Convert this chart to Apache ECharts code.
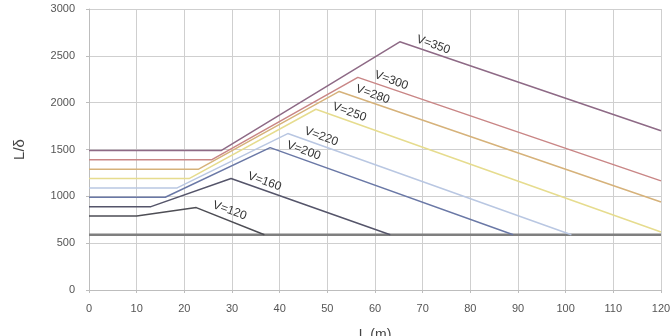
<!DOCTYPE html>
<html>
<head>
<meta charset="utf-8">
<script src="https://cdn.jsdelivr.net/npm/echarts@6/dist/echarts.min.js"></script>
<style>
  html, body { margin: 0; padding: 0; background: #fff; }
  #chart { width: 671px; height: 336px; }
</style>
</head>
<body>
<div id="chart"></div>
<script>
// speed labels and line shapes: [L (m), L/δ]
const speeds = ['V=120', 'V=160', 'V=200', 'V=220', 'V=250', 'V=280', 'V=300', 'V=350'];
const v120 = [[0, 790], [10, 790], [22.5, 880], [36.8, 590]];
const v160 = [[0, 890], [13, 890], [29.8, 1190], [63.2, 590]];
const v200 = [[0, 990], [16, 990], [38, 1520], [89, 590]];
const v220 = [[0, 1090], [18.5, 1090], [41.7, 1670], [101.2, 590]];
const v250 = [[0, 1190], [21, 1190], [47.6, 1930], [120, 620]];
const v280 = [[0, 1290], [23, 1290], [52.5, 2120], [120, 940]];
const v300 = [[0, 1390], [25.7, 1390], [56.4, 2270], [120, 1165]];
const v350 = [[0, 1490], [27.8, 1490], [65.2, 2650], [120, 1700]];
const baseLine = [[0, 590], [120, 590]];
const xTicks = [0, 10, 20, 30, 40, 50, 60, 70, 80, 90, 100, 110, 120];
const yTicks = [0, 500, 1000, 1500, 2000, 2500, 3000];

const lines = [v120, v160, v200, v220, v250, v280, v300, v350];
const colors = ['#4e4e55', '#55556a', '#6a78a6', '#b9c7e2', '#e6dc8e', '#d6b27a', '#c98686', '#8e6a86'];

const chart = echarts.init(document.getElementById('chart'));

const series = lines.map((pts, i) => ({
  name: speeds[i],
  type: 'line',
  symbol: 'circle',
  symbolSize: 0,
  z: 3 + i,
  lineStyle: { color: colors[i], width: 1.5 },
  itemStyle: { color: colors[i] },
  labelLayout: { hideOverlap: false },
  data: pts.map((p, j) => {
    if (j !== 2) return p;
    return {
      value: p,
      label: {
        show: true,
        formatter: speeds[i],
        position: [17, -3],
        align: 'left',
        verticalAlign: 'middle',
        rotate: -20,
        color: '#333',
        fontSize: 12,
        fontFamily: 'Liberation Sans',
      },
    };
  }),
}));

series.unshift({
  name: 'base',
  type: 'line',
  symbol: 'none',
  z: 2,
  lineStyle: { color: '#7f7f7f', width: 2.5 },
  data: baseLine,
});

const option = {
  animation: false,
  backgroundColor: '#fff',
  grid: {
    left: 89,
    right: 10,
    top: 9,
    bottom: 46,
    outerBoundsMode: 'none',
    containLabel: false,
  },
  xAxis: {
    type: 'value',
    min: xTicks[0],
    max: xTicks[xTicks.length - 1],
    interval: 10,
    name: 'L (m)',
    nameLocation: 'middle',
    nameGap: 38,
    nameTextStyle: { color: '#444', fontSize: 14, fontFamily: 'Liberation Sans' },
    axisLine: { lineStyle: { color: '#bdbdbd' } },
    axisTick: { show: true, length: 3, lineStyle: { color: '#bdbdbd' } },
    axisLabel: { color: '#555', fontSize: 11, fontFamily: 'Liberation Sans', margin: 13 },
    splitLine: { show: true, lineStyle: { color: '#cfcfcf' } },
  },
  yAxis: {
    type: 'value',
    min: yTicks[0],
    max: yTicks[yTicks.length - 1],
    interval: 500,
    name: 'L/δ',
    nameLocation: 'middle',
    nameRotate: 90,
    nameGap: 62,
    nameTextStyle: { color: '#444', fontSize: 15, fontFamily: 'Liberation Sans' },
    axisLine: { show: true, lineStyle: { color: '#bdbdbd' } },
    axisTick: { show: true, length: 3, lineStyle: { color: '#bdbdbd' } },
    axisLabel: {
      color: '#555',
      fontSize: 11,
      fontFamily: 'Liberation Sans',
      margin: 14,
      formatter: (v) => String(v),
    },
    splitLine: { show: true, lineStyle: { color: '#cfcfcf' } },
  },
  series,
};

chart.setOption(option);
</script>
</body>
</html>
